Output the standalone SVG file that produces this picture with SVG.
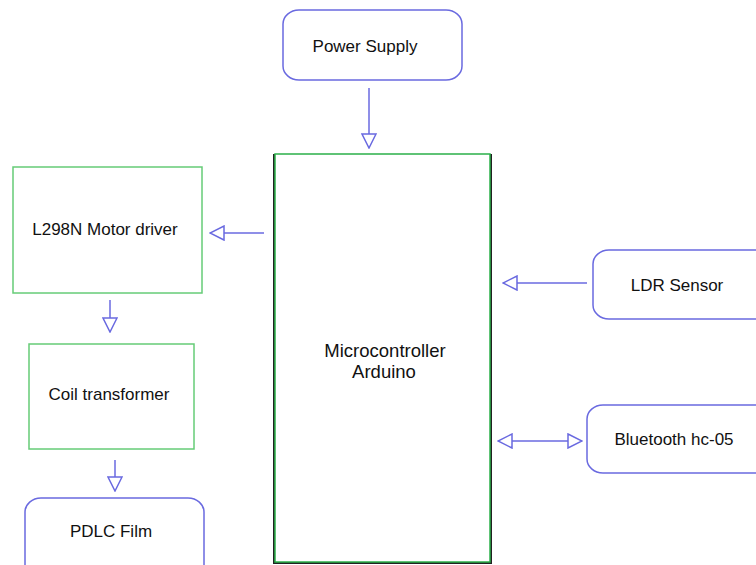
<svg xmlns="http://www.w3.org/2000/svg" width="756" height="565" viewBox="0 0 756 565">
<style>
.t{font-family:"Liberation Sans",Arial,sans-serif;font-size:17px;fill:#111;text-anchor:middle}
.m{font-size:18.5px}
.rb{fill:#fff;stroke:#6a6ae0;stroke-width:1.5}
.gb{fill:#fff;stroke:#66cc77;stroke-width:1.5}
.c{stroke:#6a6ae0;stroke-width:1.5;fill:none}
</style>
<defs>
<marker id="tri" viewBox="0 0 16 16" refX="15" refY="8" markerWidth="16" markerHeight="16" markerUnits="userSpaceOnUse" orient="auto-start-reverse">
<path d="M1,1 L15,8 L1,15 z" fill="#fff" stroke="#6a6ae0" stroke-width="1.5"/>
</marker>
</defs>
<rect width="756" height="565" fill="#fff"/>
<g id="power">
<rect class="rb" x="283" y="10" width="179" height="70" rx="16" ry="14"/>
<text class="t" x="365" y="52">Power Supply</text>
</g>
<g id="mcu">
<rect x="274" y="155" width="217" height="408" fill="none" stroke="#222" stroke-width="2"/>
<rect x="275" y="154" width="215" height="408" fill="#fff" stroke="#2bb04a" stroke-width="1.5"/>
<text class="t m" x="385" y="357">Microcontroller</text>
<text class="t m" x="384" y="378">Arduino</text>
</g>
<g id="l298n">
<rect class="gb" x="13" y="167" width="189" height="126"/>
<text class="t" x="105" y="235">L298N Motor driver</text>
</g>
<g id="coil">
<rect class="gb" x="29" y="344" width="165" height="105"/>
<text class="t" x="109" y="400">Coil transformer</text>
</g>
<g id="pdlc">
<rect class="rb" x="25" y="498" width="179" height="90" rx="16" ry="14"/>
<text class="t" x="111" y="537">PDLC Film</text>
</g>
<g id="ldr">
<rect class="rb" x="593" y="250" width="190" height="69" rx="16" ry="14"/>
<text class="t" x="677" y="291">LDR Sensor</text>
</g>
<g id="bt">
<rect class="rb" x="587" y="405" width="196" height="68" rx="16" ry="14"/>
<text class="t" x="674" y="445">Bluetooth hc-05</text>
</g>
<g id="connectors">
<line class="c" x1="369" y1="88" x2="369" y2="148" marker-end="url(#tri)"/>
<line class="c" x1="264" y1="233" x2="210" y2="233" marker-end="url(#tri)"/>
<line class="c" x1="110" y1="300" x2="110" y2="332" marker-end="url(#tri)"/>
<line class="c" x1="115" y1="460" x2="115" y2="491" marker-end="url(#tri)"/>
<line class="c" x1="587" y1="283" x2="503" y2="283" marker-end="url(#tri)"/>
<line class="c" x1="498" y1="441" x2="582" y2="441" marker-start="url(#tri)" marker-end="url(#tri)"/>
</g>
</svg>
